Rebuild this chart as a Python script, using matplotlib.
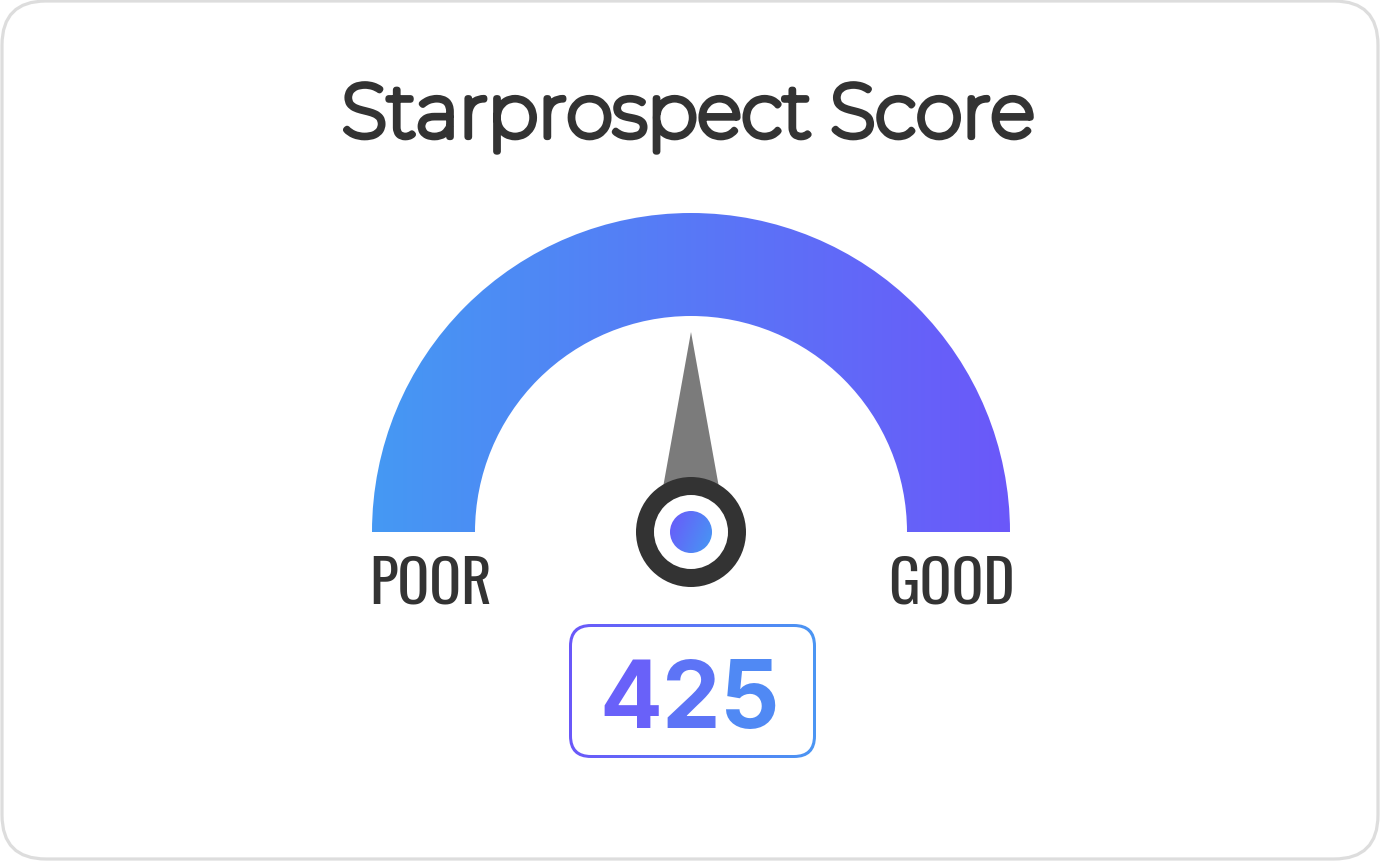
import numpy as np
import matplotlib
matplotlib.use("Agg")
import matplotlib.pyplot as plt
import matplotlib.patheffects as pe
from matplotlib.patches import Wedge, Circle, Polygon, FancyBboxPatch

# ---- data ----
title = "Starprospect Score"
range_labels = ["POOR", "GOOD"]
score_min = 0
score_max = 850
score = 425

# ---- style ----
W, H = 1380, 862
C_LEFT = np.array([69, 153, 243]) / 255.0     # blue
C_RIGHT = np.array([107, 88, 250]) / 255.0    # purple
C_BOX_R = np.array([75, 150, 243]) / 255.0
DARK = "#333333"

fig = plt.figure(figsize=(W / 100, H / 100), dpi=100)
ax = fig.add_axes([0, 0, 1, 1])
ax.set_xlim(0, W)
ax.set_ylim(H, 0)
ax.axis("off")


def hgrad(c0, c1, n=256, diag=False):
    t = np.linspace(0, 1, n)
    if diag:
        tt = (t[None, :] * 0.7 + t[:, None] * 0.3)
    else:
        tt = np.tile(t, (n, 1))
    return c0[None, None, :] * (1 - tt[..., None]) + c1[None, None, :] * tt[..., None]


# ---- card border ----
card = FancyBboxPatch((2, 2), W - 4, H - 4, boxstyle="round,pad=0,rounding_size=44",
                      facecolor="white", edgecolor="#dddddd", linewidth=2.3)
ax.add_patch(card)

# ---- title ----
ax.text(688, 138, title, ha="center", va="baseline", fontsize=54,
        family=["Montserrat", "Lato", "DejaVu Sans"], color=DARK,
        path_effects=[pe.withStroke(linewidth=4.5, foreground=DARK, joinstyle="round")])

# ---- gauge arc ----
cx, cy = 691, 533
R_out, R_in = 319, 216
wedge = Wedge((cx, cy), R_out, 180, 360, width=R_out - R_in, facecolor="none", edgecolor="none")
ax.add_patch(wedge)
img = ax.imshow(hgrad(C_LEFT, C_RIGHT), extent=[cx - R_out, cx + R_out, cy, cy - R_out],
                interpolation="bilinear", zorder=1)
img.set_clip_path(wedge)

# ---- needle ----
frac = (score - score_min) / (score_max - score_min)
theta = np.radians(180 - frac * 180)
L, hw = 200, 36
tip = (cx + L * np.cos(theta), cy - L * np.sin(theta))
px, py = np.sin(theta), np.cos(theta)
needle = Polygon([tip, (cx - hw * px, cy - hw * py), (cx + hw * px, cy + hw * py)],
                 closed=True, facecolor="#7b7b7b", edgecolor="none", zorder=3)
ax.add_patch(needle)

# ---- hub ----
ax.add_patch(Circle((cx, cy), 55, facecolor=DARK, edgecolor="none", zorder=4))
ax.add_patch(Circle((cx, cy), 37, facecolor="white", edgecolor="none", zorder=5))
dot = Circle((cx, cy), 21, facecolor="none", edgecolor="none", zorder=6)
ax.add_patch(dot)
dimg = ax.imshow(hgrad(C_RIGHT, C_LEFT, diag=True), extent=[cx - 21, cx + 21, cy + 21, cy - 21],
                 interpolation="bilinear", zorder=6)
dimg.set_clip_path(dot)

# ---- range labels ----
lab_font = ["Oswald", "PT Sans Narrow", "DejaVu Sans"]
ax.text(cx - R_out - 3, 604, range_labels[0], ha="left", va="baseline", fontsize=42.5,
        family=lab_font, color=DARK, zorder=7)
ax.text(cx + R_out + 5, 604, range_labels[1], ha="right", va="baseline", fontsize=42.5,
        family=lab_font, color=DARK, zorder=7)

# ---- score box (gradient outline) ----
bx0, by0, bx1, by1 = 569, 625, 816, 759
bw = 3
outer = FancyBboxPatch((bx0, by0), bx1 - bx0, by1 - by0, boxstyle="round,pad=0,rounding_size=22",
                       facecolor="none", edgecolor="none", zorder=7)
ax.add_patch(outer)
bimg = ax.imshow(hgrad(C_RIGHT, C_BOX_R), extent=[bx0, bx1, by1, by0],
                 interpolation="bilinear", zorder=7)
bimg.set_clip_path(outer)
ax.add_patch(FancyBboxPatch((bx0 + bw, by0 + bw), bx1 - bx0 - 2 * bw, by1 - by0 - 2 * bw,
                            boxstyle="round,pad=0,rounding_size=19",
                            facecolor="white", edgecolor="none", zorder=7.5))

digits = list(str(score))
centers = [631, 691, 750]
dcols = ["#6961f9", "#5d74f6", "#5089f4"]
for ch, xc, col in zip(digits, centers, dcols):
    ax.text(xc, 728, ch, ha="center", va="baseline", fontsize=67,
            family=["Inter", "Roboto", "DejaVu Sans"], fontweight="bold", color=col, zorder=8)

fig.savefig("out.png", dpi=100)
